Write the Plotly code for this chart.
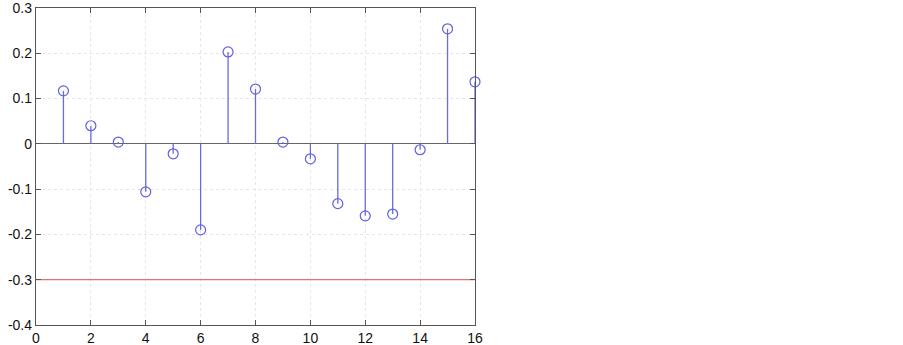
import plotly.graph_objects as go

n_values = list(range(1, 17))
acf_values = [0.117, 0.040, 0.004, -0.106, -0.022, -0.190, 0.203, 0.121,
              0.004, -0.033, -0.132, -0.159, -0.155, -0.013, 0.254, 0.137]
threshold = -0.3
x_ticks = [0, 2, 4, 6, 8, 10, 12, 14, 16]
y_ticks = [-0.4, -0.3, -0.2, -0.1, 0, 0.1, 0.2, 0.3]
y_tick_labels = ["-0.4", "-0.3", "-0.2", "-0.1", "0", "0.1", "0.2", "0.3"]

stem_x, stem_y = [], []
for n, v in zip(n_values, acf_values):
    stem_x += [n, n, None]
    stem_y += [0, v, None]

fig = go.Figure()
fig.add_trace(go.Scatter(x=[0, 16], y=[threshold, threshold], mode="lines",
                         line=dict(color="#e07272", width=1.3), hoverinfo="skip",
                         cliponaxis=False))
fig.add_trace(go.Scatter(x=stem_x, y=stem_y, mode="lines",
                         line=dict(color="#6a6ae2", width=1.3), hoverinfo="skip",
                         cliponaxis=False))
fig.add_trace(go.Scatter(x=n_values, y=acf_values, mode="markers",
                         marker=dict(symbol="circle-open", size=10,
                                     color="#6060e0", line=dict(width=1.2)),
                         cliponaxis=False))

axis_common = dict(showline=True, linecolor="#555555", linewidth=1.3, mirror="ticks",
                   ticks="inside", ticklen=5, tickcolor="#555555", automargin=False,
                   ticklabeloverflow="allow",
                   showgrid=True, gridcolor="#e6e6e6", griddash="dot", gridwidth=1,
                   tickfont=dict(family="Liberation Sans, Arial", size=14, color="#111111"))

fig.update_xaxes(range=[0, 16], tickvals=x_ticks, zeroline=False, **axis_common)
fig.update_yaxes(range=[-0.4, 0.3], tickvals=y_ticks, ticktext=y_tick_labels,
                 zeroline=True, zerolinecolor="#666666", zerolinewidth=1.3, **axis_common)

fig.update_layout(width=903, height=345, showlegend=False,
                  margin=dict(l=36, r=428, t=8, b=20),
                  plot_bgcolor="white", paper_bgcolor="white")
fig.write_html("out.html", config={"displayModeBar": False},
               post_script="document.body.style.margin='0';document.body.style.overflow='hidden';")
